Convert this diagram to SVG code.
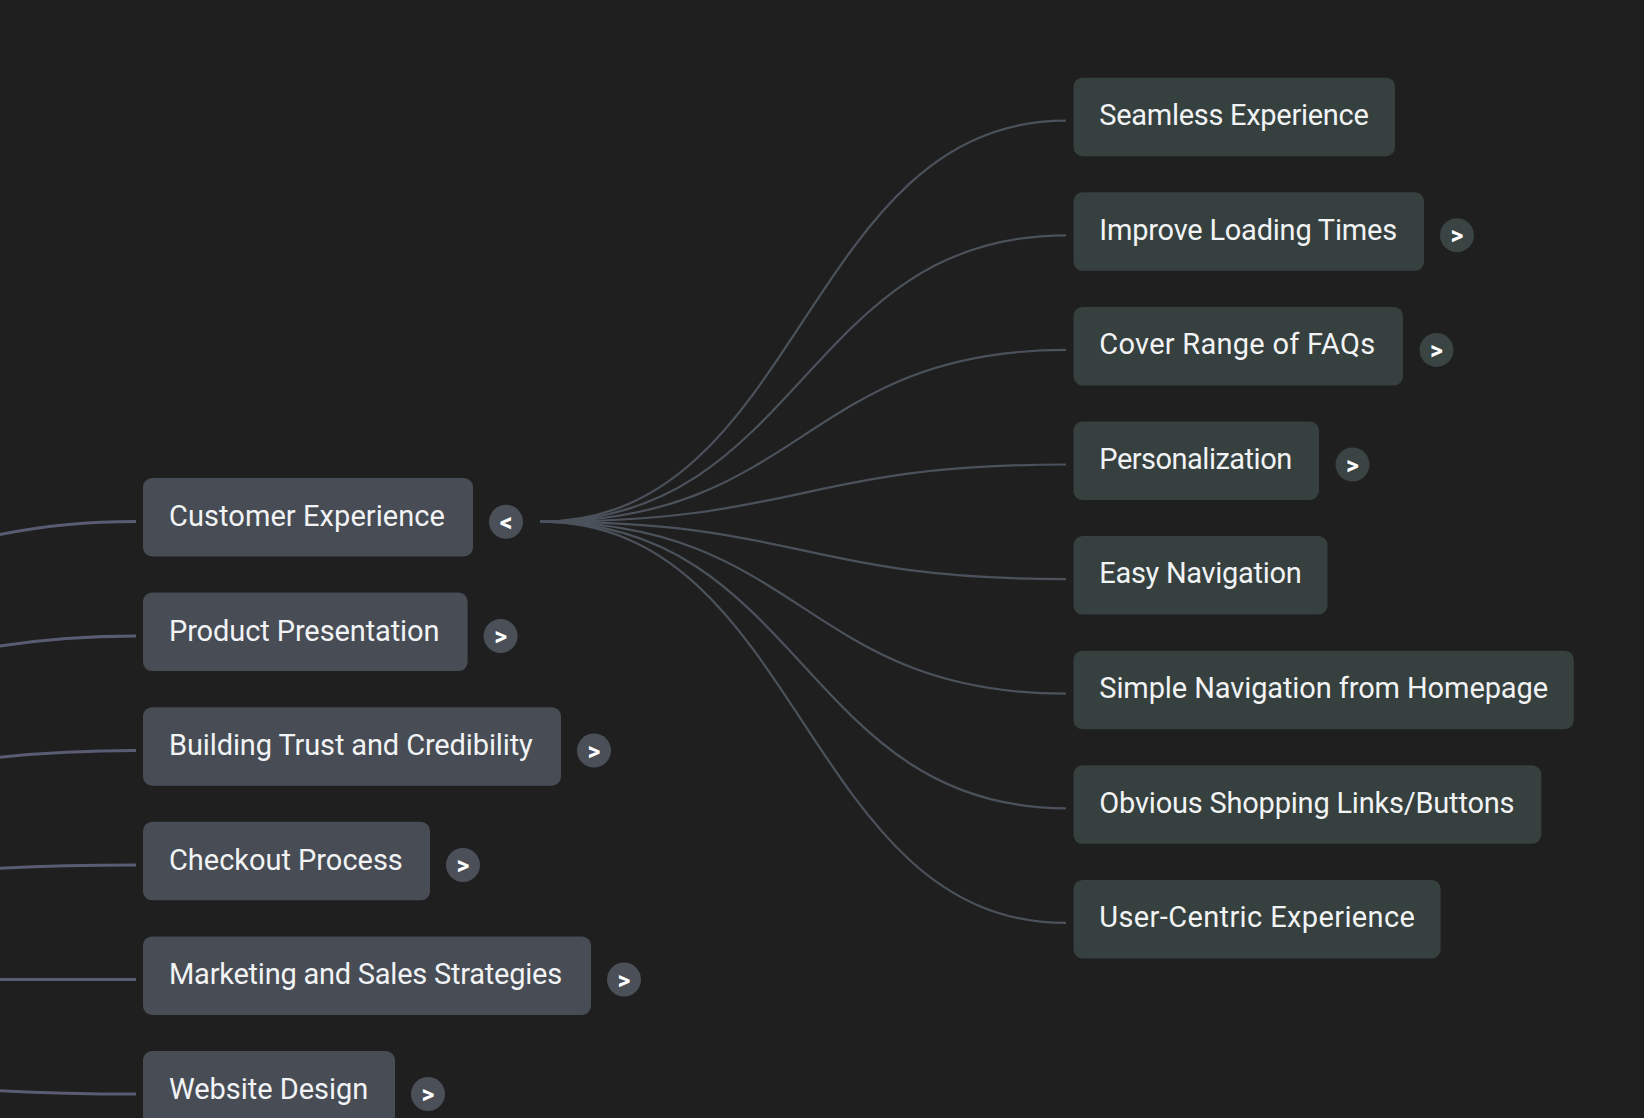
<svg xmlns="http://www.w3.org/2000/svg" width="1644" height="1118" viewBox="0 0 1644 1118">
<style>
.bg{fill:#1f1f1f}
.lbox{fill:#474c55}
.rbox{fill:#36403e}
.lcirc{fill:#4a4f58}
.rcirc{fill:#3a4442}
.t{font-family:Roboto,"Open Sans","Liberation Sans",sans-serif;font-size:29px;fill:#f1f3f4}
.a{font-family:Roboto,"Liberation Sans",sans-serif;font-size:25px;font-weight:700;fill:#ffffff;text-anchor:middle}
.fan{fill:none;stroke:#4b525b;stroke-width:2.2}
.lc{fill:none;stroke:#5a5c73;stroke-width:3}
</style>
<rect class="bg" x="0" y="0" width="1644" height="1118"/>
<g id="connectors">
<path class="lc" d="M-855,979 C-360,979 -360,521.5 136,521.5"/>
<path class="lc" d="M-855,979 C-360,979 -360,636 136,636"/>
<path class="lc" d="M-855,979 C-360,979 -360,750.5 136,750.5"/>
<path class="lc" d="M-855,979 C-360,979 -360,865 136,865"/>
<path class="lc" d="M-855,979 C-360,979 -360,979.5 136,979.5"/>
<path class="lc" d="M-855,979 C-360,979 -360,1094 136,1094"/>
<path class="fan" d="M540,521.7 C803,521.7 803,120.7 1066,120.7"/>
<path class="fan" d="M540,521.7 C803,521.7 803,235.3 1066,235.3"/>
<path class="fan" d="M540,521.7 C803,521.7 803,349.9 1066,349.9"/>
<path class="fan" d="M540,521.7 C803,521.7 803,464.5 1066,464.5"/>
<path class="fan" d="M540,521.7 C803,521.7 803,579.1 1066,579.1"/>
<path class="fan" d="M540,521.7 C803,521.7 803,693.7 1066,693.7"/>
<path class="fan" d="M540,521.7 C803,521.7 803,808.3 1066,808.3"/>
<path class="fan" d="M540,521.7 C803,521.7 803,922.9 1066,922.9"/>
</g>
<g id="customer-experience">
<rect class="lbox" x="143" y="478" width="330" height="78.5" rx="9"/>
<text class="t" x="169" y="526" textLength="276">Customer Experience</text>
<circle class="lcirc" cx="506" cy="521.7" r="17"/>
<text class="a" x="506" y="530.5">&lt;</text>
</g>
<g id="product-presentation">
<rect class="lbox" x="143" y="592.6" width="324.6" height="78.5" rx="9"/>
<text class="t" x="169" y="640.6" textLength="270.5">Product Presentation</text>
<circle class="lcirc" cx="500.6" cy="636" r="17"/>
<text class="a" x="500.6" y="645">&gt;</text>
</g>
<g id="building-trust">
<rect class="lbox" x="143" y="707.2" width="418" height="78.5" rx="9"/>
<text class="t" x="169" y="755.2" textLength="363.8">Building Trust and Credibility</text>
<circle class="lcirc" cx="594" cy="750.5" r="17"/>
<text class="a" x="594" y="759.5">&gt;</text>
</g>
<g id="checkout-process">
<rect class="lbox" x="143" y="821.8" width="287" height="78.5" rx="9"/>
<text class="t" x="169" y="869.8" textLength="233.8">Checkout Process</text>
<circle class="lcirc" cx="463" cy="865" r="17"/>
<text class="a" x="463" y="874">&gt;</text>
</g>
<g id="marketing-sales">
<rect class="lbox" x="143" y="936.4" width="448" height="78.5" rx="9"/>
<text class="t" x="169" y="984.4" textLength="393.2">Marketing and Sales Strategies</text>
<circle class="lcirc" cx="624" cy="979.5" r="17"/>
<text class="a" x="624" y="988.5">&gt;</text>
</g>
<g id="website-design">
<rect class="lbox" x="143" y="1051" width="252" height="78.5" rx="9"/>
<text class="t" x="169" y="1099" textLength="199.2">Website Design</text>
<circle class="lcirc" cx="428" cy="1094" r="17"/>
<text class="a" x="428" y="1103">&gt;</text>
</g>
<g id="seamless-experience">
<rect class="rbox" x="1073.5" y="77.7" width="321.5" height="78.5" rx="9"/>
<text class="t" x="1099.3" y="125" textLength="269.5">Seamless Experience</text>
</g>
<g id="improve-loading-times">
<rect class="rbox" x="1073.5" y="192.3" width="350.5" height="78.5" rx="9"/>
<text class="t" x="1099.3" y="239.6" textLength="297.8">Improve Loading Times</text>
<circle class="rcirc" cx="1457" cy="235.3" r="17"/>
<text class="a" x="1457" y="244.3">&gt;</text>
</g>
<g id="cover-range-faqs">
<rect class="rbox" x="1073.5" y="306.9" width="329.5" height="78.5" rx="9"/>
<text class="t" x="1099.3" y="354.2" textLength="275.8">Cover Range of FAQs</text>
<circle class="rcirc" cx="1436.5" cy="349.9" r="17"/>
<text class="a" x="1436.5" y="358.9">&gt;</text>
</g>
<g id="personalization">
<rect class="rbox" x="1073.5" y="421.5" width="245.5" height="78.5" rx="9"/>
<text class="t" x="1099.3" y="468.8" textLength="192.9">Personalization</text>
<circle class="rcirc" cx="1352.5" cy="464.5" r="17"/>
<text class="a" x="1352.5" y="473.5">&gt;</text>
</g>
<g id="easy-navigation">
<rect class="rbox" x="1073.5" y="536.1" width="254" height="78.5" rx="9"/>
<text class="t" x="1099.3" y="583.4" textLength="202.4">Easy Navigation</text>
</g>
<g id="simple-navigation">
<rect class="rbox" x="1073.5" y="650.7" width="500.3" height="78.5" rx="9"/>
<text class="t" x="1099.3" y="698" textLength="448.8">Simple Navigation from Homepage</text>
</g>
<g id="obvious-shopping">
<rect class="rbox" x="1073.5" y="765.3" width="467.8" height="78.5" rx="9"/>
<text class="t" x="1099.3" y="812.6" textLength="415.2">Obvious Shopping Links/Buttons</text>
</g>
<g id="user-centric">
<rect class="rbox" x="1073.5" y="879.9" width="367.1" height="78.5" rx="9"/>
<text class="t" x="1099.3" y="927.2" textLength="315.6">User-Centric Experience</text>
</g>
</svg>
